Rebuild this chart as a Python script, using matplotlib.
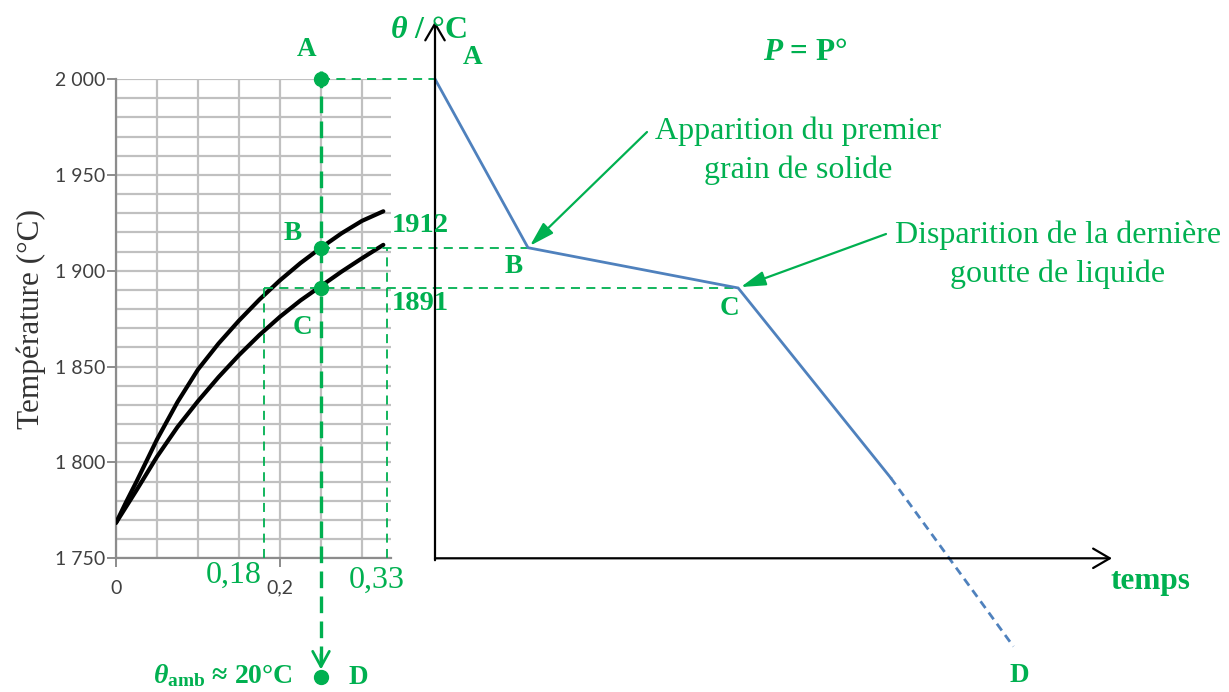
import numpy as np
import matplotlib
matplotlib.use("Agg")
import matplotlib.pyplot as plt
from matplotlib.ticker import FuncFormatter

plt.rcParams['font.family'] = ['Liberation Serif', 'DejaVu Serif']
plt.rcParams['mathtext.fontset'] = 'custom'
plt.rcParams['mathtext.rm'] = 'Liberation Serif'
plt.rcParams['mathtext.it'] = 'Liberation Serif:italic'
plt.rcParams['mathtext.bf'] = 'Liberation Serif:bold'
plt.rcParams['mathtext.bfit'] = 'Liberation Serif:italic:bold'

GREEN = '#00b050'
BLUE = '#4f81bd'
GRID = '#c0c0c0'

# diagramme binaire : fraction molaire / temperature
x_frac = [0, 0.0125, 0.025, 0.05, 0.075, 0.10, 0.125, 0.15, 0.175, 0.20, 0.225, 0.25, 0.275, 0.30, 0.326]
liquidus = [1768.5, 1779.5, 1790, 1812, 1831.5, 1848.5, 1862, 1874, 1885, 1895, 1904, 1912, 1919.5, 1926, 1931]
solidus = [1768.5, 1777, 1785.5, 1803, 1818.5, 1832, 1844.5, 1856, 1866.5, 1876, 1884.5, 1892, 1899.5, 1906.5, 1913.5]

# composition etudiee et lectures
x0 = 0.25
x_sol_B = 0.33
x_liq_C = 0.18
T_A, T_B, T_C = 2000, 1912, 1891
T_D = 1688

# courbe de refroidissement
t_cool = [0, 1.0, 3.26, 4.9]
T_cool = [T_A, T_B, T_C, 1792]
t_D, T_Dcurve = 6.22, 1704

W, H = 1229, 692
fig = plt.figure(figsize=(W / 100, H / 100), dpi=100)

y_top, y_bot = 79, 558.3
ax1 = fig.add_axes([116 / W, 1 - y_bot / H, (390.7 - 116) / W, (y_bot - y_top) / H])
ax2 = fig.add_axes([435 / W, 1 - y_bot / H, (1112 - 435) / W, (y_bot - y_top) / H])

# ---- gauche : diagramme
ax1.set_xlim(0, 0.335)
ax1.set_ylim(1750, 2000)
ax1.set_xticks([0, 0.2])
ax1.set_xticks(np.arange(0, 0.31, 0.05), minor=True)
ax1.set_yticks(np.arange(1750, 2001, 50))
ax1.set_yticks(np.arange(1750, 2001, 10), minor=True)
ax1.xaxis.set_major_formatter(FuncFormatter(lambda v, p: f"{v:g}".replace('.', ',')))
ax1.yaxis.set_major_formatter(FuncFormatter(lambda v, p: f"{int(v):,}".replace(',', ' ')))
ax1.grid(which='both', color=GRID, lw=1.6, zorder=0)
ax1.set_axisbelow(True)
for s in ['top', 'right']:
    ax1.spines[s].set_visible(False)
for s in ['left', 'bottom']:
    ax1.spines[s].set_color('#8c8c8c')
    ax1.spines[s].set_linewidth(1.6)
ax1.tick_params(which='major', length=6.5, width=1.4, color='#8c8c8c', labelcolor='#404040')
ax1.tick_params(axis='x', pad=9)
ax1.tick_params(axis='y', pad=1.5)
ax1.tick_params(which='minor', length=0)
for lab in ax1.get_xticklabels() + ax1.get_yticklabels():
    lab.set_family('Lato')
    lab.set_fontsize(14)
ax1.set_ylabel('Température (°C)', fontsize=22.5, color='#333333', labelpad=6)

ax1.plot(x_frac, liquidus, color='black', lw=3, solid_capstyle='round', solid_joinstyle='round', zorder=3)
ax1.plot(x_frac, solidus, color='black', lw=3, solid_capstyle='round', solid_joinstyle='round', zorder=3)

ax2.set_xlim(0, 7.28)
ax2.set_ylim(1750, 2000)
ax2.axis('off')


def x_in_ax1(t, T):
    return ax1.transData.inverted().transform(ax2.transData.transform((t, T)))[0]


thin = dict(color=GREEN, lw=1.3, ls=(0, (5, 3.5)), clip_on=False, zorder=4)
ax1.plot([x0, x_in_ax1(t_cool[0], T_A)], [T_A, T_A], **thin)
ax1.plot([x0, x_in_ax1(t_cool[1], T_B)], [T_B, T_B], **thin)
ax1.plot([x_liq_C, x_in_ax1(t_cool[2], T_C)], [T_C, T_C], **thin)
ax1.plot([x_liq_C, x_liq_C], [1750, T_C], **thin)
ax1.plot([x_sol_B, x_sol_B], [1750, T_B], **thin)

ax1.plot([x0, x0], [T_A + 4, T_D + 8], color=GREEN, lw=2.4, ls=(0, (5, 2.5)), clip_on=False, zorder=4)
ax1.annotate('', xy=(x0, T_D + 4), xytext=(x0, T_D + 12), annotation_clip=False,
             arrowprops=dict(arrowstyle='->,head_length=0.55,head_width=0.3', color=GREEN, lw=2,
                             shrinkA=0, shrinkB=0, mutation_scale=20))
ax1.plot([x0, x0, x0, x0], [T_A, T_B, T_C, T_D], 'o', color=GREEN, ms=10, clip_on=False, zorder=5)

# ---- droite : courbe de refroidissement
ax2.plot(t_cool, T_cool, color=BLUE, lw=2, solid_joinstyle='miter', clip_on=False)
ax2.plot([t_cool[-1], t_D], [T_cool[-1], T_Dcurve], color=BLUE, lw=2, ls=(0, (3, 2)), clip_on=False)

axis_arrow = dict(arrowstyle='->,head_length=0.6,head_width=0.35', color='black', lw=1.6,
                  shrinkA=0, shrinkB=0, mutation_scale=20)
ax2.annotate('', xy=(7.28, 1750), xytext=(0, 1750), arrowprops=axis_arrow, annotation_clip=False)
ax2.annotate('', xy=(0, 2030), xytext=(0, 1749), arrowprops=axis_arrow, annotation_clip=False)

note_arrow = dict(arrowstyle='-|>,head_length=0.75,head_width=0.22', color=GREEN, lw=1.6,
                  shrinkA=0, shrinkB=2, mutation_scale=20)
ax2.annotate('', xy=(t_cool[1], T_B), xytext=(647, H - 132), textcoords='figure pixels',
             arrowprops=note_arrow)
ax2.annotate('', xy=(t_cool[2], T_C), xytext=(886, H - 234), textcoords='figure pixels',
             arrowprops=note_arrow)


def label(x, y, s, size=19.5, weight='bold', **kw):
    fig.text(x / W, 1 - y / H, s, color=GREEN, fontsize=size, fontweight=weight,
             ha='center', va='center', **kw)


label(307, 49, 'A')
label(293, 233, 'B')
label(302, 328, 'C')
label(420, 226, '1912', size=20.5)
label(420, 304, '1891', size=20.5)
label(234, 575, '0,18', size=23, weight='normal')
label(377, 580, '0,33', size=23, weight='normal')
label(223, 676, r'$\mathbfit{\theta}_{\mathbf{amb}}$ ≈ 20°C', size=20)
label(358, 678, 'D')

label(428, 31, r'$\mathbfit{\theta}$ / °C', size=23)
label(473, 58, 'A')
label(805, 53, r'$\mathbfit{P}$ = P°', size=22.5)
label(514, 266, 'B')
label(729, 308, 'C')
label(1019, 675, 'D')
label(1150, 581, 'temps', size=22.5)
label(798, 151, 'Apparition du premier\ngrain de solide', size=23, weight='normal', linespacing=1.42)
label(1058, 255, 'Disparition de la dernière\ngoutte de liquide', size=23, weight='normal', linespacing=1.42)

fig.savefig('out.png', dpi=100)
